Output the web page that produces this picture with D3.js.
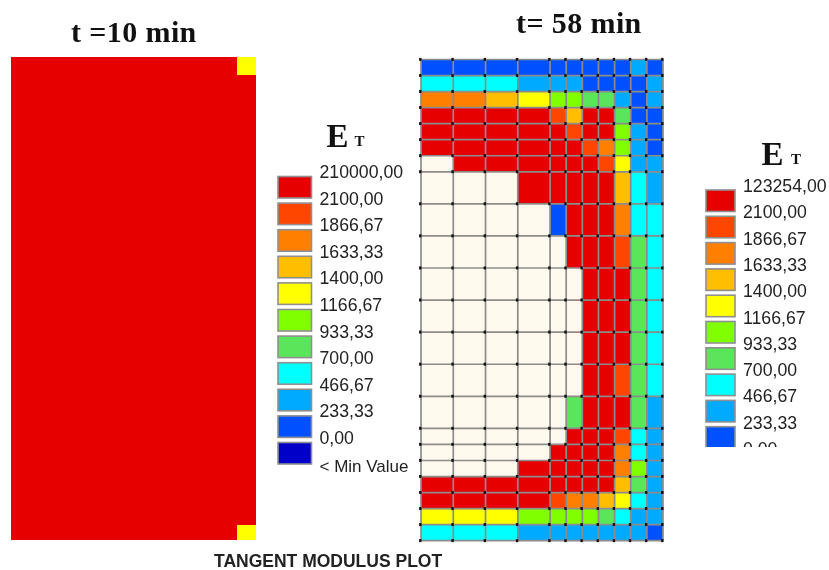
<!DOCTYPE html>
<html>
<head>
<meta charset="utf-8">
<script src="https://cdn.jsdelivr.net/npm/d3@7"></script>
<style>
  html, body { margin: 0; padding: 0; background: #fff; overflow: hidden; }
  svg { display: block; filter: blur(0.35px); }
</style>
</head>
<body>
<div id="chart"></div>
<script>
// legend labels, top to bottom
var labels10 = ['210000,00', '2100,00', '1866,67', '1633,33', '1400,00', '1166,67', '933,33', '700,00', '466,67', '233,33', '0,00', '< Min Value'];
var labels58 = ['123254,00', '2100,00', '1866,67', '1633,33', '1400,00', '1166,67', '933,33', '700,00', '466,67', '233,33', '0,00'];

// band limits of the tangent modulus, rising
var limits = [0, 233.33, 466.67, 700, 933.33, 1166.67, 1400, 1633.33, 1866.67, 2100, 123254];

// estimated value per band
var B = 120, S = 350, C = 580, G = 820, L = 1050, Y = 1280, A = 1520, O = 1750, H = 1980, R = 2500, W = 150000;

// mesh spacing, t = 58 min
var colSizes58 = [2, 2, 2, 2, 1, 1, 1, 1, 1, 1, 1];
var rowSizes58 = [1, 1, 1, 1, 1, 1, 1, 2, 2, 2, 2, 2, 2, 2, 2, 1, 1, 1, 1, 1, 1, 1];

var values58 = [
  [B, B, B, B, B, B, B, B, B, S, B],
  [C, C, C, S, S, S, B, B, B, B, S],
  [O, O, A, Y, L, L, G, G, S, B, S],
  [R, R, R, R, H, A, R, R, G, B, B],
  [R, R, R, R, R, H, R, R, L, S, B],
  [R, R, R, R, R, R, H, O, L, S, B],
  [W, R, R, R, R, R, R, H, Y, S, S],
  [W, W, W, R, R, R, R, R, A, C, S],
  [W, W, W, W, B, R, R, R, O, C, C],
  [W, W, W, W, W, R, R, R, H, G, C],
  [W, W, W, W, W, W, R, R, R, G, C],
  [W, W, W, W, W, W, R, R, R, G, C],
  [W, W, W, W, W, W, R, R, R, G, C],
  [W, W, W, W, W, W, R, R, H, G, C],
  [W, W, W, W, W, G, R, R, R, G, S],
  [W, W, W, W, W, R, R, R, H, C, S],
  [W, W, W, W, R, R, R, R, O, C, S],
  [W, W, W, R, R, R, R, R, O, L, S],
  [R, R, R, R, R, R, R, R, A, G, S],
  [R, R, R, R, H, O, O, A, Y, C, S],
  [Y, Y, Y, L, L, L, L, G, C, S, S],
  [C, C, C, S, S, S, S, S, S, S, B]
];

// mesh spacing, t = 10 min
var colSizes10 = [12.3, 1];
var rowSizes10 = [18, 450, 15];

var values10 = [
  [R, Y],
  [R, R],
  [R, Y]
];

var width = 829;
var height = 570;

var svg = d3.select('#chart')
  .append('svg')
  .attr('width', width)
  .attr('height', height);

var color = d3.scaleThreshold()
  .domain(limits)
  .range(['#0000c8', '#0050ff', '#00aaff', '#00ffff', '#5ae65a', '#80ff00', '#ffff00', '#ffbf00', '#ff7f00', '#ff4600', '#e60000', '#fff9ee']);

// running total of the spacing gives the mesh lines
function edges(sizes) {
  return [0].concat(Array.from(d3.cumsum(sizes)));
}

function drawPanel(values, colSizes, rowSizes, xRange, yRange) {
  var xEdges = edges(colSizes);
  var yEdges = edges(rowSizes);
  var x = d3.scaleLinear().domain([0, xEdges[xEdges.length - 1]]).range(xRange);
  var y = d3.scaleLinear().domain([0, yEdges[yEdges.length - 1]]).range(yRange);

  var g = svg.append('g');

  g.selectAll('g')
    .data(values)
    .enter()
    .append('g')
    .selectAll('rect')
    .data((row, r) => row.map((v, c) => ({ value: v, r: r, c: c })))
    .enter()
    .append('rect')
    .attr('x', d => x(xEdges[d.c]))
    .attr('y', d => y(yEdges[d.r]))
    .attr('width', d => x(xEdges[d.c + 1]) - x(xEdges[d.c]))
    .attr('height', d => y(yEdges[d.r + 1]) - y(yEdges[d.r]))
    .attr('shape-rendering', 'crispEdges')
    .style('fill', d => color(d.value));

  return { g: g, x: x, y: y, xEdges: xEdges, yEdges: yEdges };
}

var panel10 = drawPanel(values10, colSizes10, rowSizes10, [10.5, 255.6], [57.3, 540]);
var panel58 = drawPanel(values58, colSizes58, rowSizes58, [421, 663], [59.5, 540.7]);

// mesh lines of the right panel
panel58.g.selectAll('line.v')
  .data(panel58.xEdges)
  .enter()
  .append('line')
  .attr('class', 'v')
  .attr('x1', d => panel58.x(d))
  .attr('x2', d => panel58.x(d))
  .attr('y1', panel58.y.range()[0])
  .attr('y2', panel58.y.range()[1])
  .style('stroke', '#8c8c8c')
  .style('stroke-width', 1.7);

panel58.g.selectAll('line.h')
  .data(panel58.yEdges)
  .enter()
  .append('line')
  .attr('class', 'h')
  .attr('y1', d => panel58.y(d))
  .attr('y2', d => panel58.y(d))
  .attr('x1', panel58.x.range()[0])
  .attr('x2', panel58.x.range()[1])
  .style('stroke', '#8c8c8c')
  .style('stroke-width', 1.7);

// black node at each mesh crossing
var nodes = d3.cross(panel58.xEdges, panel58.yEdges);

panel58.g.selectAll('rect.node')
  .data(nodes)
  .enter()
  .append('rect')
  .attr('class', 'node')
  .attr('x', d => panel58.x(d[0]) - 1.9)
  .attr('y', d => panel58.y(d[1]) - 1.6)
  .attr('width', 2.4)
  .attr('height', 3)
  .style('fill', '#111');

// clip for the cut off end of the right legend
svg.append('clipPath')
  .attr('id', 'legendClip')
  .append('rect')
  .attr('x', 690)
  .attr('y', 170)
  .attr('width', 139)
  .attr('height', 277);

function drawLegend(labels, swatchCount, opts) {
  var g = svg.append('g');
  if (opts.clip) g.attr('clip-path', 'url(#legendClip)');

  var y = d3.scaleLinear()
    .domain([0, 1])
    .range([opts.top, opts.top + opts.step]);

  // the bands run from red down to the lowest colour
  var bands = color.range().slice(0, -1).reverse().slice(0, swatchCount);

  g.selectAll('rect')
    .data(bands)
    .enter()
    .append('rect')
    .attr('x', opts.x)
    .attr('y', (d, i) => y(i))
    .attr('width', opts.w)
    .attr('height', opts.h)
    .style('fill', d => d)
    .style('stroke', '#8f8f8f')
    .style('stroke-width', 1.6);

  g.selectAll('text')
    .data(labels)
    .enter()
    .append('text')
    .attr('x', opts.textX)
    .attr('y', (d, i) => y(i) - opts.textUp + (d[0] === '<' ? 1.5 : 0))
    .text(d => d)
    .style('font-family', '"Liberation Sans", Arial, sans-serif')
    .style('font-size', d => d[0] === '<' ? '17px' : '17.7px')
    .style('fill', '#222');
}

drawLegend(labels10, 11, { x: 278, w: 33.5, h: 21.5, top: 176.5, step: 26.6, textX: 319.5, textUp: -1.5 });
drawLegend(labels58, 11, { x: 706, w: 29, h: 21.5, top: 190, step: 26.3, textX: 743, textUp: -2, clip: true });

// titles
function serifText(str, x, y, size, spacing) {
  svg.append('text')
    .attr('x', x)
    .attr('y', y)
    .text(str)
    .style('font-family', '"Liberation Serif", "Times New Roman", serif')
    .style('font-weight', 'bold')
    .style('font-size', size + 'px')
    .style('letter-spacing', (spacing || 0) + 'px')
    .style('fill', '#111');
}

serifText('t =10 min', 71, 42, 30, 0.4);
serifText('t= 58 min', 516, 33.3, 30, 0.4);

serifText('E', 326.5, 147, 33);
serifText('T', 354.5, 146, 15);
serifText('E', 761.5, 165, 33);
serifText('T', 791, 164, 15);

svg.append('text')
  .attr('x', 214)
  .attr('y', 567)
  .text('TANGENT MODULUS PLOT')
  .style('font-family', '"Liberation Sans", Arial, sans-serif')
  .style('font-weight', 'bold')
  .style('font-size', '17.5px')
  .style('fill', '#222');
</script>
</body>
</html>
